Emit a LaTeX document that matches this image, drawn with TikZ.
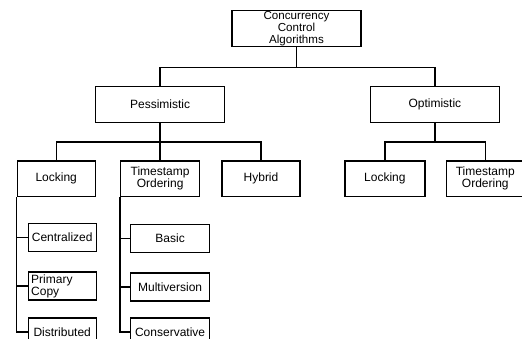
\documentclass[tikz,border=0pt]{standalone}
\usepackage{fontspec}
\setmainfont{Liberation Sans}
\usetikzlibrary{positioning}

\begin{document}
\begin{tikzpicture}[
    x=1pt, y=1pt,
    node distance=19pt,
    box/.style={rectangle, draw, line width=1.4pt, align=center, inner sep=2pt,
        font=\fontsize{12}{12.2}\selectfont},
    topbox/.style={box, minimum width=129pt, minimum height=36pt, inner ysep=0pt},
    midbox/.style={box, minimum width=79pt, minimum height=35.5pt},
    leaf/.style={box, minimum height=28pt, inner ysep=0pt},
    link/.style={line width=1.4pt}
]
\useasboundingbox (0,0) rectangle (522,-338);
\clip (0,0) rectangle (522,-338);

\node[topbox, font=\fontsize{11.6}{11.9}\selectfont] (root) at (296.5,-28.5) {Concurrency\\Control\\Algorithms};
\node[topbox, below left=38.5pt and 6pt of root] (pess) {Pessimistic};
\node[topbox, below right=38.5pt and 8pt of root] (opt) {Optimistic};

\node[midbox, below=37pt of pess] (tsord) {Timestamp\\Ordering};
\node[midbox, minimum width=78pt, left=24pt of tsord] (lock) {Locking};
\node[midbox, minimum width=78pt, right=21pt of tsord] (hybrid) {Hybrid};
\node[midbox, minimum width=80pt, below=37pt of opt, xshift=-50pt] (olock) {Locking};
\node[midbox, minimum width=78pt, right=20pt of olock] (ots) {Timestamp\\Ordering};

\node[leaf, minimum width=68pt, below right=26pt and 11pt of lock.south west] (cent) {Centralized};
\node[leaf, minimum width=68pt, align=left, text width=62pt, below=19pt of cent] (pcopy) {Primary\\Copy};
\node[leaf, minimum width=68pt, below=16.5pt of pcopy] (dist) {Distributed};

\node[leaf, minimum width=79pt, below right=27pt and 10pt of tsord.south west] (basic) {Basic};
\node[leaf, minimum width=79pt, below=19pt of basic] (multi) {Multiversion};
\node[leaf, minimum width=79pt, below=15.5pt of multi] (cons) {Conservative};

\draw[link] (root.south) -- ++(0,-20) -| (pess.north);
\draw[link] (root.south) -- ++(0,-20) -| (opt.north);
\draw[link] (pess.south) -- ++(0,-19) -| (lock.north);
\draw[link] (pess.south) -- ++(0,-19) -| (hybrid.north);
\draw[link] (pess.south) -- (tsord.north);
\draw[link] (opt.south) -- ++(0,-19) -| (olock.north);
\draw[link] (opt.south) -- ++(0,-19) -| (ots.north);

\draw[link] (lock.south west) |- (cent.west);
\draw[link] (lock.south west) |- (pcopy.west);
\draw[link] (lock.south west) |- (dist.west);
\draw[link] (tsord.south west) |- (basic.west);
\draw[link] (tsord.south west) |- (multi.west);
\draw[link] (tsord.south west) |- (cons.west);
\end{tikzpicture}
\end{document}
